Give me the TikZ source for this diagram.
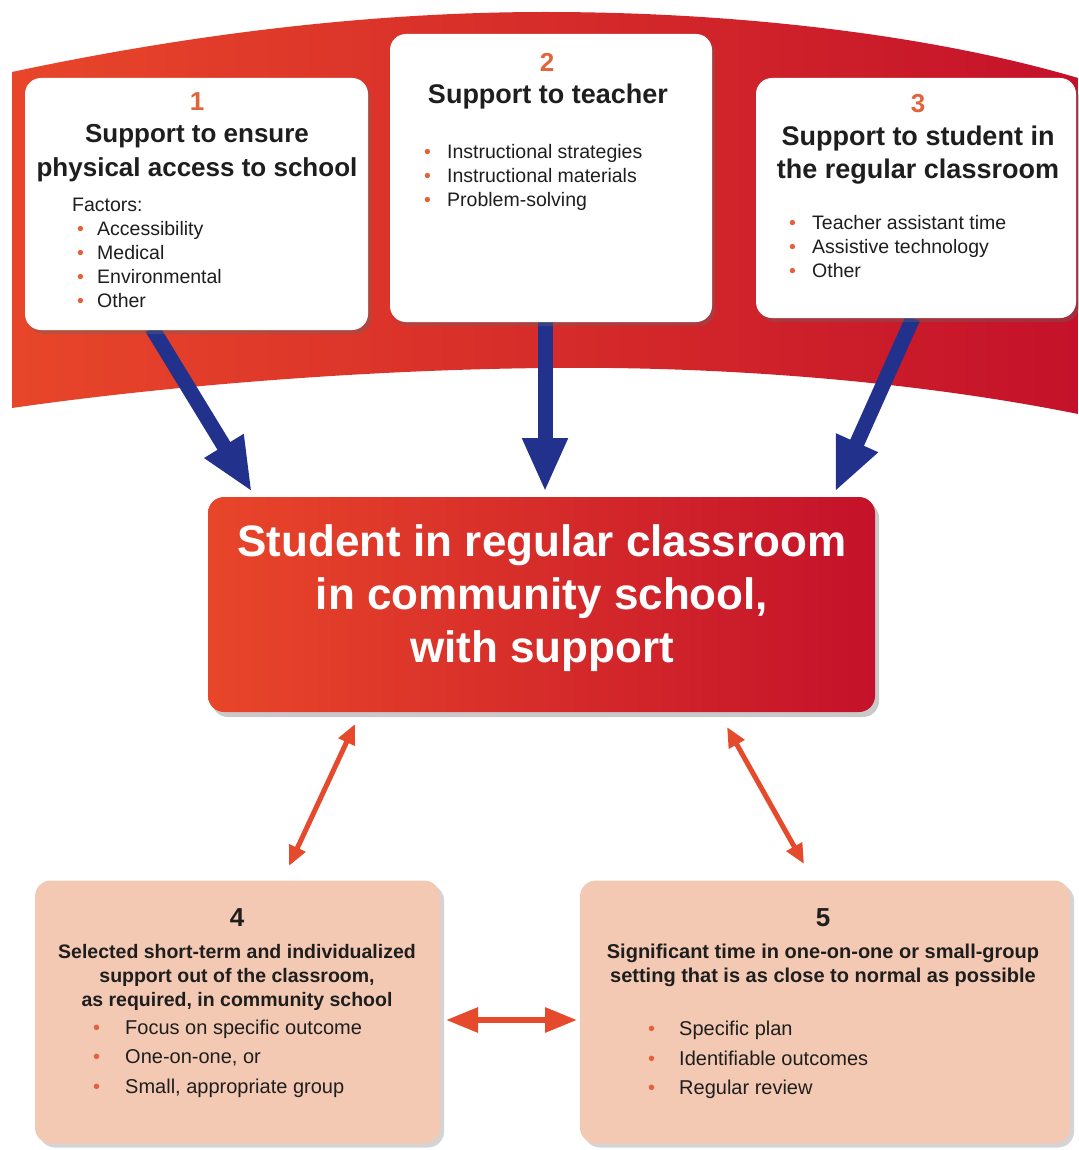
\documentclass[tikz,border=0pt]{standalone}
\usepackage{fontspec}
\setmainfont{Liberation Sans}
\usetikzlibrary{shadows,arrows.meta}
\definecolor{bandL}{HTML}{E8462A}
\definecolor{bandR}{HTML}{C4122A}
\definecolor{navy}{HTML}{22318C}
\definecolor{numor}{HTML}{E0643C}
\definecolor{peach}{HTML}{F4C9B3}
\definecolor{arr}{HTML}{E64A2C}
\definecolor{bul}{HTML}{E2603A}
\definecolor{txt}{HTML}{1E1E1E}
\newcommand{\blt}[1]{\makebox[#1][l]{\textcolor{bul}{\textbullet}}}
\begin{document}
\begin{tikzpicture}[x=1pt,y=-1pt,
  topbox/.style={draw=none,fill=white,rounded corners=16pt,inner sep=0pt,
    drop shadow={shadow xshift=3pt,shadow yshift=-4pt,opacity=0.35,fill=black!60}},
  lowbox/.style={draw=none,fill=peach,rounded corners=16pt,inner sep=0pt,
    drop shadow={shadow xshift=4pt,shadow yshift=-4pt,opacity=0.3,fill=black!55}},
  numtxt/.style={font=\fontsize{26}{30}\selectfont\bfseries,text=numor,inner sep=0pt},
  ttl/.style={font=\fontsize{27}{33}\selectfont\bfseries,text=txt,align=center,inner sep=0pt},
  lst/.style={font=\fontsize{19.5}{24}\selectfont,text=txt,align=left,inner sep=0pt,anchor=west},
  lowttl/.style={font=\fontsize{19.5}{24}\selectfont\bfseries,text=txt,align=center,inner sep=0pt},
  lowlst/.style={font=\fontsize{20}{29.5}\selectfont,text=txt,align=left,inner sep=0pt,anchor=west},
  bluearrow/.style={draw=navy,line width=15pt,-{Triangle[width=42pt,length=54pt]}},
  redarrow/.style={draw=arr,line width=5pt,{Triangle[width=17pt,length=20pt]}-{Triangle[width=17pt,length=20pt]}},
]
\useasboundingbox (0,0) rectangle (1078,1150);
\fill[white] (0,0) rectangle (1078,1150);

% red band
\shade[left color=bandL,right color=bandR]
  (12,72) .. controls (200,32) and (380,12) .. (545,12)
  .. controls (760,12) and (950,40) .. (1078,78)
  -- (1078,414) .. controls (900,378) and (700,366) .. (545,368)
  .. controls (350,370) and (150,388) .. (12,408) -- cycle;

% arrow coordinates
\coordinate (a1s) at (152,328);
\coordinate (a1e) at (252,492);
\coordinate (a2s) at (545,318);
\coordinate (a2e) at (545,492);
\coordinate (a3s) at (913,318);
\coordinate (a3e) at (835,492);
\draw[bluearrow] (a1s) -- (a1e);
\draw[bluearrow] (a2s) -- (a2e);
\draw[bluearrow] (a3s) -- (a3e);

% top boxes
\node[topbox,minimum width=343pt,minimum height=252pt] (b1) at (196.5,204) {};
\node[topbox,minimum width=322pt,minimum height=288pt] (b2) at (551,178) {};
\node[topbox,minimum width=320pt,minimum height=240pt] (b3) at (916,198) {};

\node[numtxt] (n1) at (197,102) {1};
\node[ttl,font=\fontsize{26}{34}\selectfont\bfseries] (t1) at (197,153) {Support to ensure\\physical access to school};
\node[lst] (l1) at (72,253) {Factors:\\\hspace*{5pt}\blt{20pt}Accessibility\\\hspace*{5pt}\blt{20pt}Medical\\\hspace*{5pt}\blt{20pt}Environmental\\\hspace*{5pt}\blt{20pt}Other};

\node[numtxt] (n2) at (547,62) {2};
\node[ttl] (t2) at (548,97) {Support to teacher};
\node[lst] (l2) at (424,177) {\blt{23pt}Instructional strategies\\\blt{23pt}Instructional materials\\\blt{23pt}Problem-solving};

\node[numtxt] (n3) at (918,104) {3};
\node[ttl] (t3) at (918,155.5) {Support to student in\\the regular classroom};
\node[lst] (l3) at (789,247) {\blt{23pt}Teacher assistant time\\\blt{23pt}Assistive technology\\\blt{23pt}Other};

% center box
\node[draw=none,left color=bandL,right color=bandR,rounded corners=16pt,inner sep=0pt,
  minimum width=667pt,minimum height=215pt,
  drop shadow={shadow xshift=4pt,shadow yshift=-5pt,opacity=0.35,fill=black!60}] (c) at (541.5,604.5) {};
\node[font=\fontsize{44}{53}\selectfont\bfseries,text=white,align=center,inner sep=0pt] (ct) at (542,598)
  {Student in regular classroom\\in community school,\\with support};

% red double arrows
\coordinate (r1a) at (355,724);
\coordinate (r1b) at (289,866);
\coordinate (r2a) at (727,727);
\coordinate (r2b) at (804,864);
\coordinate (r3a) at (446,1020);
\coordinate (r3b) at (577,1020);
\draw[redarrow] (r1a) -- (r1b);
\draw[redarrow] (r2a) -- (r2b);
\draw[redarrow,line width=6pt,{Triangle[width=24pt,length=32pt]}-{Triangle[width=24pt,length=32pt]}] (r3a) -- (r3b);

% lower boxes
\node[lowbox,minimum width=405pt,minimum height=263pt] (b4) at (237.5,1012) {};
\node[lowbox,minimum width=490pt,minimum height=263pt] (b5) at (825,1012) {};

\node[numtxt,text=txt] (n4) at (237,918) {4};
\node[lowttl] (t4) at (237,977) {Selected short-term and individualized\\support out of the classroom,\\as required, in community school};
\node[lowlst] (l4) at (93,1058.5) {\blt{32pt}Focus on specific outcome\\\blt{32pt}One-on-one, or\\\blt{32pt}Small, appropriate group};

\node[numtxt,text=txt] (n5) at (823,918) {5};
\node[lowttl,font=\fontsize{20}{24}\selectfont\bfseries] (t5) at (823,965) {Significant time in one-on-one or small-group\\setting that is as close to normal as possible};
\node[lowlst] (l5) at (648,1060) {\blt{31pt}Specific plan\\\blt{31pt}Identifiable outcomes\\\blt{31pt}Regular review};
\end{tikzpicture}
\end{document}
